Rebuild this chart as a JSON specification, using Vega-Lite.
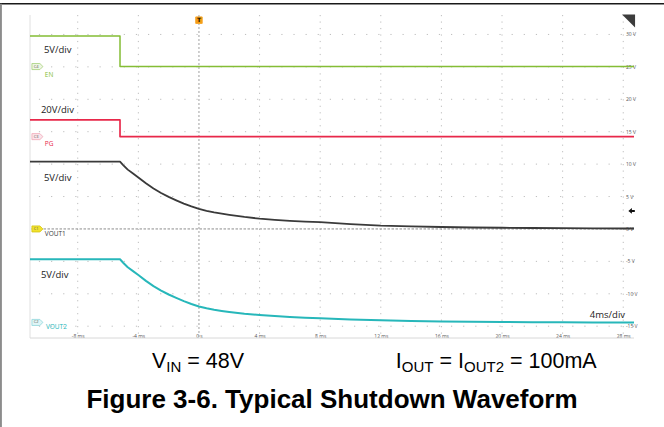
{
  "$schema": "https://vega.github.io/schema/vega-lite/v6.json",
  "width": 604,
  "height": 323,
  "autosize": "none",
  "padding": {"left": 30, "top": 15, "right": 30, "bottom": 89},
  "background": "white",
  "config": {"view": {"stroke": null}, "font": "Open Sans", "axis": {"grid": false, "title": null, "domain": false, "ticks": false, "tickSize": 0, "labelOverlap": false}},
  "datasets": {
    "wave": [
      {"ch": "EN", "i": 0, "t": -11.15, "v": 29.78},
      {"ch": "EN", "i": 1, "t": -5.21, "v": 29.78},
      {"ch": "EN", "i": 2, "t": -5.21, "v": 25.05},
      {"ch": "EN", "i": 3, "t": 28.71, "v": 25.05},
      {"ch": "PG", "i": 0, "t": -11.15, "v": 16.82},
      {"ch": "PG", "i": 1, "t": -5.21, "v": 16.82},
      {"ch": "PG", "i": 2, "t": -5.21, "v": 14.24},
      {"ch": "PG", "i": 3, "t": 28.71, "v": 14.24},
      {"ch": "VOUT1", "i": 0, "t": -11.15, "v": 10.38},
      {"ch": "VOUT1", "i": 1, "t": -5.21, "v": 10.38},
      {"ch": "VOUT1", "i": 2, "t": -5.0, "v": 9.85},
      {"ch": "VOUT1", "i": 3, "t": -4.7, "v": 9.15},
      {"ch": "VOUT1", "i": 4, "t": -4.35, "v": 8.55},
      {"ch": "VOUT1", "i": 5, "t": -4.0, "v": 7.95},
      {"ch": "VOUT1", "i": 6, "t": -3.5, "v": 7.05},
      {"ch": "VOUT1", "i": 7, "t": -3.0, "v": 6.25},
      {"ch": "VOUT1", "i": 8, "t": -2.5, "v": 5.55},
      {"ch": "VOUT1", "i": 9, "t": -2.0, "v": 4.95},
      {"ch": "VOUT1", "i": 10, "t": -1.5, "v": 4.42},
      {"ch": "VOUT1", "i": 11, "t": -1.0, "v": 3.92},
      {"ch": "VOUT1", "i": 12, "t": -0.5, "v": 3.48},
      {"ch": "VOUT1", "i": 13, "t": 0.0, "v": 3.1},
      {"ch": "VOUT1", "i": 14, "t": 0.5, "v": 2.8},
      {"ch": "VOUT1", "i": 15, "t": 1.0, "v": 2.56},
      {"ch": "VOUT1", "i": 16, "t": 1.5, "v": 2.36},
      {"ch": "VOUT1", "i": 17, "t": 2.0, "v": 2.18},
      {"ch": "VOUT1", "i": 18, "t": 3.0, "v": 1.85},
      {"ch": "VOUT1", "i": 19, "t": 4.0, "v": 1.58},
      {"ch": "VOUT1", "i": 20, "t": 5.0, "v": 1.4},
      {"ch": "VOUT1", "i": 21, "t": 6.0, "v": 1.25},
      {"ch": "VOUT1", "i": 22, "t": 7.0, "v": 1.14},
      {"ch": "VOUT1", "i": 23, "t": 8.0, "v": 1.04},
      {"ch": "VOUT1", "i": 24, "t": 10.0, "v": 0.75},
      {"ch": "VOUT1", "i": 25, "t": 12.0, "v": 0.52},
      {"ch": "VOUT1", "i": 26, "t": 14.0, "v": 0.4},
      {"ch": "VOUT1", "i": 27, "t": 16.0, "v": 0.3},
      {"ch": "VOUT1", "i": 28, "t": 18.0, "v": 0.23},
      {"ch": "VOUT1", "i": 29, "t": 20.0, "v": 0.18},
      {"ch": "VOUT1", "i": 30, "t": 22.0, "v": 0.15},
      {"ch": "VOUT1", "i": 31, "t": 24.0, "v": 0.12},
      {"ch": "VOUT1", "i": 32, "t": 26.0, "v": 0.09},
      {"ch": "VOUT1", "i": 33, "t": 28.71, "v": 0.07},
      {"ch": "VOUT2", "i": 0, "t": -11.15, "v": -4.68},
      {"ch": "VOUT2", "i": 1, "t": -5.21, "v": -4.68},
      {"ch": "VOUT2", "i": 2, "t": -5.0, "v": -5.21},
      {"ch": "VOUT2", "i": 3, "t": -4.7, "v": -5.91},
      {"ch": "VOUT2", "i": 4, "t": -4.35, "v": -6.51},
      {"ch": "VOUT2", "i": 5, "t": -4.0, "v": -7.11},
      {"ch": "VOUT2", "i": 6, "t": -3.5, "v": -8.01},
      {"ch": "VOUT2", "i": 7, "t": -3.0, "v": -8.81},
      {"ch": "VOUT2", "i": 8, "t": -2.5, "v": -9.51},
      {"ch": "VOUT2", "i": 9, "t": -2.0, "v": -10.11},
      {"ch": "VOUT2", "i": 10, "t": -1.5, "v": -10.64},
      {"ch": "VOUT2", "i": 11, "t": -1.0, "v": -11.14},
      {"ch": "VOUT2", "i": 12, "t": -0.5, "v": -11.58},
      {"ch": "VOUT2", "i": 13, "t": 0.0, "v": -11.96},
      {"ch": "VOUT2", "i": 14, "t": 0.5, "v": -12.24},
      {"ch": "VOUT2", "i": 15, "t": 1.0, "v": -12.46},
      {"ch": "VOUT2", "i": 16, "t": 1.5, "v": -12.64},
      {"ch": "VOUT2", "i": 17, "t": 2.0, "v": -12.8},
      {"ch": "VOUT2", "i": 18, "t": 3.0, "v": -13.07},
      {"ch": "VOUT2", "i": 19, "t": 4.0, "v": -13.28},
      {"ch": "VOUT2", "i": 20, "t": 5.0, "v": -13.44},
      {"ch": "VOUT2", "i": 21, "t": 6.0, "v": -13.57},
      {"ch": "VOUT2", "i": 22, "t": 7.0, "v": -13.68},
      {"ch": "VOUT2", "i": 23, "t": 8.0, "v": -13.78},
      {"ch": "VOUT2", "i": 24, "t": 10.0, "v": -13.95},
      {"ch": "VOUT2", "i": 25, "t": 12.0, "v": -14.09},
      {"ch": "VOUT2", "i": 26, "t": 14.0, "v": -14.19},
      {"ch": "VOUT2", "i": 27, "t": 16.0, "v": -14.26},
      {"ch": "VOUT2", "i": 28, "t": 18.0, "v": -14.31},
      {"ch": "VOUT2", "i": 29, "t": 20.0, "v": -14.35},
      {"ch": "VOUT2", "i": 30, "t": 22.0, "v": -14.38},
      {"ch": "VOUT2", "i": 31, "t": 24.0, "v": -14.4},
      {"ch": "VOUT2", "i": 32, "t": 26.0, "v": -14.41},
      {"ch": "VOUT2", "i": 33, "t": 28.71, "v": -14.42}
    ]
  },
  "layer": [
    {
      "data": {"values": [{"t": -13.2, "t2": 30.8, "v": 34.72}]},
      "mark": {"type": "rule", "color": "#1a1a1a", "strokeWidth": 1.5},
      "encoding": {
        "x": {"field": "t", "type": "quantitative", "scale": {"domain": [-11.15, 28.71], "nice": false, "zero": false},
          "axis": {"orient": "bottom", "values": [-8, -4, 0, 4, 8, 12, 16, 20, 24, 28], "offset": -3, "domain": false, "ticks": false, "tickSize": 0, "labelPadding": 0, "labelBaseline": "middle", "labelFontSize": 5, "labelColor": "#555", "labelFont": "Open Sans", "labelOverlap": false, "grid": false, "title": null, "labelExpr": "datum.value == 0 ? '0 s' : datum.value + ' ms'"}},
        "x2": {"field": "t2"},
        "y": {"field": "v", "type": "quantitative", "scale": {"domain": [-16.82, 33.0], "nice": false, "zero": false},
          "axis": {"orient": "right", "labels": false, "domain": false, "ticks": false, "grid": false, "title": null}}
      }
    },
    {
      "data": {"values": [{"t": -13.07, "v": 34.72, "v2": -30.6}]},
      "mark": {"type": "rule", "color": "#8c8c8c", "strokeWidth": 2},
      "encoding": {
        "x": {"field": "t", "type": "quantitative", "scale": {"domain": [-11.15, 28.71], "nice": false, "zero": false}},
        "y": {"field": "v", "type": "quantitative", "scale": {"domain": [-16.82, 33.0], "nice": false, "zero": false}},
        "y2": {"field": "v2"}
      }
    },
    {
      "data": {"values": [{"t": -11.15}]},
      "mark": {"type": "rule", "color": "#e0e0e0", "strokeWidth": 1},
      "encoding": {
        "x": {"field": "t", "type": "quantitative", "scale": {"domain": [-11.15, 28.71], "nice": false, "zero": false}}
      }
    },
    {
      "data": {"values": [{"v": -16.82}]},
      "mark": {"type": "rule", "color": "#d8d8d8", "strokeWidth": 1},
      "encoding": {
        "y": {"field": "v", "type": "quantitative", "scale": {"domain": [-16.82, 33.0], "nice": false, "zero": false}}
      }
    },
    {
      "data": {"values": [{"t": -8}, {"t": -4}, {"t": 4}, {"t": 8}, {"t": 12}, {"t": 16}, {"t": 20}, {"t": 24}, {"t": 28}]},
      "mark": {"type": "rule", "color": "#bdbdbd", "strokeWidth": 1, "strokeDash": [1.2, 5.28]},
      "encoding": {
        "x": {"field": "t", "type": "quantitative", "scale": {"domain": [-11.15, 28.71], "nice": false, "zero": false}}
      }
    },
    {
      "data": {"values": [{"v": -15}, {"v": -10}, {"v": -5}, {"v": 5}, {"v": 10}, {"v": 15}, {"v": 20}, {"v": 25}, {"v": 30}]},
      "mark": {"type": "rule", "color": "#bdbdbd", "strokeWidth": 1, "strokeDash": [1.2, 10.92]},
      "encoding": {
        "y": {"field": "v", "type": "quantitative", "scale": {"domain": [-16.82, 33.0], "nice": false, "zero": false}}
      }
    },
    {
      "data": {"values": [{"t": 0}]},
      "mark": {"type": "rule", "color": "#a0a0a0", "strokeWidth": 1, "strokeDash": [2, 2]},
      "encoding": {
        "x": {"field": "t", "type": "quantitative", "scale": {"domain": [-11.15, 28.71], "nice": false, "zero": false}}
      }
    },
    {
      "data": {"values": [{"v": 0}]},
      "mark": {"type": "rule", "color": "#8e8e8e", "strokeWidth": 1, "strokeDash": [2.5, 1.5]},
      "encoding": {
        "y": {"field": "v", "type": "quantitative", "scale": {"domain": [-16.82, 33.0], "nice": false, "zero": false}}
      }
    },
    {
      "data": {"values": [
        {"v": 30, "label": "30 V"}, {"v": 25, "label": "25 V"}, {"v": 20, "label": "20 V"},
        {"v": 15, "label": "15 V"}, {"v": 10, "label": "10 V"}, {"v": 5, "label": "5 V"},
        {"v": 0, "label": "0 V"}, {"v": -5, "label": "-5 V"}, {"v": -10, "label": "-10 V"},
        {"v": -15, "label": "-15 V"}
      ]},
      "mark": {"type": "text", "fontSize": 5, "align": "left", "baseline": "middle", "color": "#555", "font": "Open Sans"},
      "encoding": {
        "x": {"datum": 28.18, "type": "quantitative", "scale": {"domain": [-11.15, 28.71], "nice": false, "zero": false}},
        "y": {"field": "v", "type": "quantitative", "scale": {"domain": [-16.82, 33.0], "nice": false, "zero": false}},
        "text": {"field": "label"}
      }
    },
    {
      "data": {"name": "wave"},
      "mark": {"type": "line", "interpolate": "linear", "strokeJoin": "round"},
      "encoding": {
        "x": {"field": "t", "type": "quantitative", "scale": {"domain": [-11.15, 28.71], "nice": false, "zero": false}},
        "y": {"field": "v", "type": "quantitative", "scale": {"domain": [-16.82, 33.0], "nice": false, "zero": false}},
        "color": {"field": "ch", "type": "nominal", "scale": {"domain": ["EN", "PG", "VOUT1", "VOUT2"], "range": ["#84bd35", "#e8284a", "#3a3a3a", "#27b7ba"]}, "legend": null},
        "strokeWidth": {"field": "ch", "type": "nominal", "scale": {"domain": ["EN", "PG", "VOUT1", "VOUT2"], "range": [1.5, 2, 1.3, 2]}, "legend": null},
        "order": {"field": "i", "type": "quantitative"}
      }
    },
    {
      "data": {"values": [
        {"t": -10.66, "v": 25.05, "badge": "C4"},
        {"t": -10.66, "v": 14.24, "badge": "C3"},
        {"t": -10.66, "v": 0, "badge": "C1"},
        {"t": -10.66, "v": -14.42, "badge": "C2"}
      ]},
      "mark": {"type": "point", "filled": true, "shape": "M -1 -0.55 L 0.45 -0.55 L 1 0 L 0.45 0.55 L -1 0.55 Z", "size": 121, "strokeWidth": 0.8, "opacity": 1},
      "encoding": {
        "x": {"field": "t", "type": "quantitative", "scale": {"domain": [-11.15, 28.71], "nice": false, "zero": false}},
        "y": {"field": "v", "type": "quantitative", "scale": {"domain": [-16.82, 33.0], "nice": false, "zero": false}},
        "fill": {"field": "badge", "type": "nominal", "scale": {"domain": ["C4", "C3", "C1", "C2"], "range": ["#eef6e2", "#fbe4ea", "#f2e22e", "#dff5f6"]}, "legend": null},
        "stroke": {"field": "badge", "type": "nominal", "scale": {"domain": ["C4", "C3", "C1", "C2"], "range": ["#a6cf7a", "#f0a8b8", "#d4c410", "#8fd6da"]}, "legend": null}
      }
    },
    {
      "data": {"values": [
        {"t": -10.75, "v": 25.05, "badge": "C4"},
        {"t": -10.75, "v": 14.24, "badge": "C3"},
        {"t": -10.75, "v": 0, "badge": "C1"},
        {"t": -10.75, "v": -14.42, "badge": "C2"}
      ]},
      "mark": {"type": "text", "fontSize": 4, "color": "#555", "align": "center", "baseline": "middle", "font": "Open Sans"},
      "encoding": {
        "x": {"field": "t", "type": "quantitative", "scale": {"domain": [-11.15, 28.71], "nice": false, "zero": false}},
        "y": {"field": "v", "type": "quantitative", "scale": {"domain": [-16.82, 33.0], "nice": false, "zero": false}},
        "text": {"field": "badge"}
      }
    },
    {
      "data": {"values": [
        {"t": -10.17, "v": 23.76, "ch": "EN"},
        {"t": -10.17, "v": 13.12, "ch": "PG"},
        {"t": -10.17, "v": -0.77, "ch": "VOUT1"},
        {"t": -10.1, "v": -15.12, "ch": "VOUT2"}
      ]},
      "mark": {"type": "text", "fontSize": 6.5, "align": "left", "baseline": "middle", "font": "Open Sans"},
      "encoding": {
        "x": {"field": "t", "type": "quantitative", "scale": {"domain": [-11.15, 28.71], "nice": false, "zero": false}},
        "y": {"field": "v", "type": "quantitative", "scale": {"domain": [-16.82, 33.0], "nice": false, "zero": false}},
        "text": {"field": "ch"},
        "color": {"field": "ch", "type": "nominal", "scale": {"domain": ["EN", "PG", "VOUT1", "VOUT2"], "range": ["#84bd35", "#e8284a", "#3a3a3a", "#27b7ba"]}, "legend": null}
      }
    },
    {
      "data": {"values": [
        {"t": -10.23, "v": 27.6, "label": "5V/div"},
        {"t": -10.43, "v": 18.36, "label": "20V/div"},
        {"t": -10.23, "v": 7.9, "label": "5V/div"},
        {"t": -10.43, "v": -7.1, "label": "5V/div"}
      ]},
      "mark": {"type": "text", "fontSize": 9.5, "align": "left", "baseline": "middle", "color": "#222", "font": "Open Sans"},
      "encoding": {
        "x": {"field": "t", "type": "quantitative", "scale": {"domain": [-11.15, 28.71], "nice": false, "zero": false}},
        "y": {"field": "v", "type": "quantitative", "scale": {"domain": [-16.82, 33.0], "nice": false, "zero": false}},
        "text": {"field": "label"}
      }
    },
    {
      "data": {"values": [{"t": 28.12, "v": -13.27, "label": "4ms/div"}]},
      "mark": {"type": "text", "fontSize": 9.5, "align": "right", "baseline": "middle", "color": "#222", "font": "Open Sans"},
      "encoding": {
        "x": {"field": "t", "type": "quantitative", "scale": {"domain": [-11.15, 28.71], "nice": false, "zero": false}},
        "y": {"field": "v", "type": "quantitative", "scale": {"domain": [-16.82, 33.0], "nice": false, "zero": false}},
        "text": {"field": "label"}
      }
    },
    {
      "data": {"values": [{"t": 0, "v": 32.2}]},
      "mark": {"type": "point", "shape": "square", "filled": true, "size": 42, "fill": "#f39c12", "stroke": "#f7a830", "strokeWidth": 1, "opacity": 1},
      "encoding": {
        "x": {"field": "t", "type": "quantitative", "scale": {"domain": [-11.15, 28.71], "nice": false, "zero": false}},
        "y": {"field": "v", "type": "quantitative", "scale": {"domain": [-16.82, 33.0], "nice": false, "zero": false}}
      }
    },
    {
      "data": {"values": [{"t": 0, "v": 32.2, "label": "T"}]},
      "mark": {"type": "text", "fontSize": 6, "fontWeight": "bold", "align": "center", "baseline": "middle", "color": "#1a1000", "font": "DejaVu Sans"},
      "encoding": {
        "x": {"field": "t", "type": "quantitative", "scale": {"domain": [-11.15, 28.71], "nice": false, "zero": false}},
        "y": {"field": "v", "type": "quantitative", "scale": {"domain": [-16.82, 33.0], "nice": false, "zero": false}},
        "text": {"field": "label"}
      }
    },
    {
      "data": {"values": [{"t": 28.35, "v": 32.09}]},
      "mark": {"type": "point", "shape": "M -1 -1 L 1 -1 L 1 1 Z", "filled": true, "size": 169, "fill": "#3c3c3c", "strokeWidth": 0, "opacity": 1},
      "encoding": {
        "x": {"field": "t", "type": "quantitative", "scale": {"domain": [-11.15, 28.71], "nice": false, "zero": false}},
        "y": {"field": "v", "type": "quantitative", "scale": {"domain": [-16.82, 33.0], "nice": false, "zero": false}}
      }
    },
    {
      "data": {"values": [{"t": 28.55, "v": 2.78}]},
      "mark": {"type": "point", "shape": "M -1 0 L 0.1 -0.9 L 0.1 -0.3 L 1 -0.3 L 1 0.3 L 0.1 0.3 L 0.1 0.9 Z", "filled": true, "size": 42, "fill": "#111", "strokeWidth": 0, "opacity": 1},
      "encoding": {
        "x": {"field": "t", "type": "quantitative", "scale": {"domain": [-11.15, 28.71], "nice": false, "zero": false}},
        "y": {"field": "v", "type": "quantitative", "scale": {"domain": [-16.82, 33.0], "nice": false, "zero": false}}
      }
    },
    {
      "data": {"values": [
        {"t": -3.1, "v": -21.45, "label": "V"},
        {"t": -0.77, "v": -21.45, "label": "= 48V"},
        {"t": 12.99, "v": -21.45, "label": "I"},
        {"t": 15.87, "v": -21.45, "label": "= I"},
        {"t": 20.53, "v": -21.45, "label": "= 100mA"}
      ]},
      "mark": {"type": "text", "fontSize": 21.5, "align": "left", "baseline": "alphabetic", "color": "#000", "font": "Liberation Sans"},
      "encoding": {
        "x": {"field": "t", "type": "quantitative", "scale": {"domain": [-11.15, 28.71], "nice": false, "zero": false}},
        "y": {"field": "v", "type": "quantitative", "scale": {"domain": [-16.82, 33.0], "nice": false, "zero": false}},
        "text": {"field": "label"}
      }
    },
    {
      "data": {"values": [
        {"t": -2.16, "v": -22.14, "label": "IN"},
        {"t": 13.39, "v": -22.14, "label": "OUT"},
        {"t": 17.49, "v": -22.14, "label": "OUT2"}
      ]},
      "mark": {"type": "text", "fontSize": 15, "align": "left", "baseline": "alphabetic", "color": "#000", "font": "Liberation Sans"},
      "encoding": {
        "x": {"field": "t", "type": "quantitative", "scale": {"domain": [-11.15, 28.71], "nice": false, "zero": false}},
        "y": {"field": "v", "type": "quantitative", "scale": {"domain": [-16.82, 33.0], "nice": false, "zero": false}},
        "text": {"field": "label"}
      }
    },
    {
      "data": {"values": [{"t": 8.78, "v": -27.62, "label": "Figure 3-6. Typical Shutdown Waveform"}]},
      "mark": {"type": "text", "fontSize": 26, "fontWeight": "bold", "align": "center", "baseline": "alphabetic", "color": "#000", "font": "Liberation Sans"},
      "encoding": {
        "x": {"field": "t", "type": "quantitative", "scale": {"domain": [-11.15, 28.71], "nice": false, "zero": false}},
        "y": {"field": "v", "type": "quantitative", "scale": {"domain": [-16.82, 33.0], "nice": false, "zero": false}},
        "text": {"field": "label"}
      }
    }
  ]
}
